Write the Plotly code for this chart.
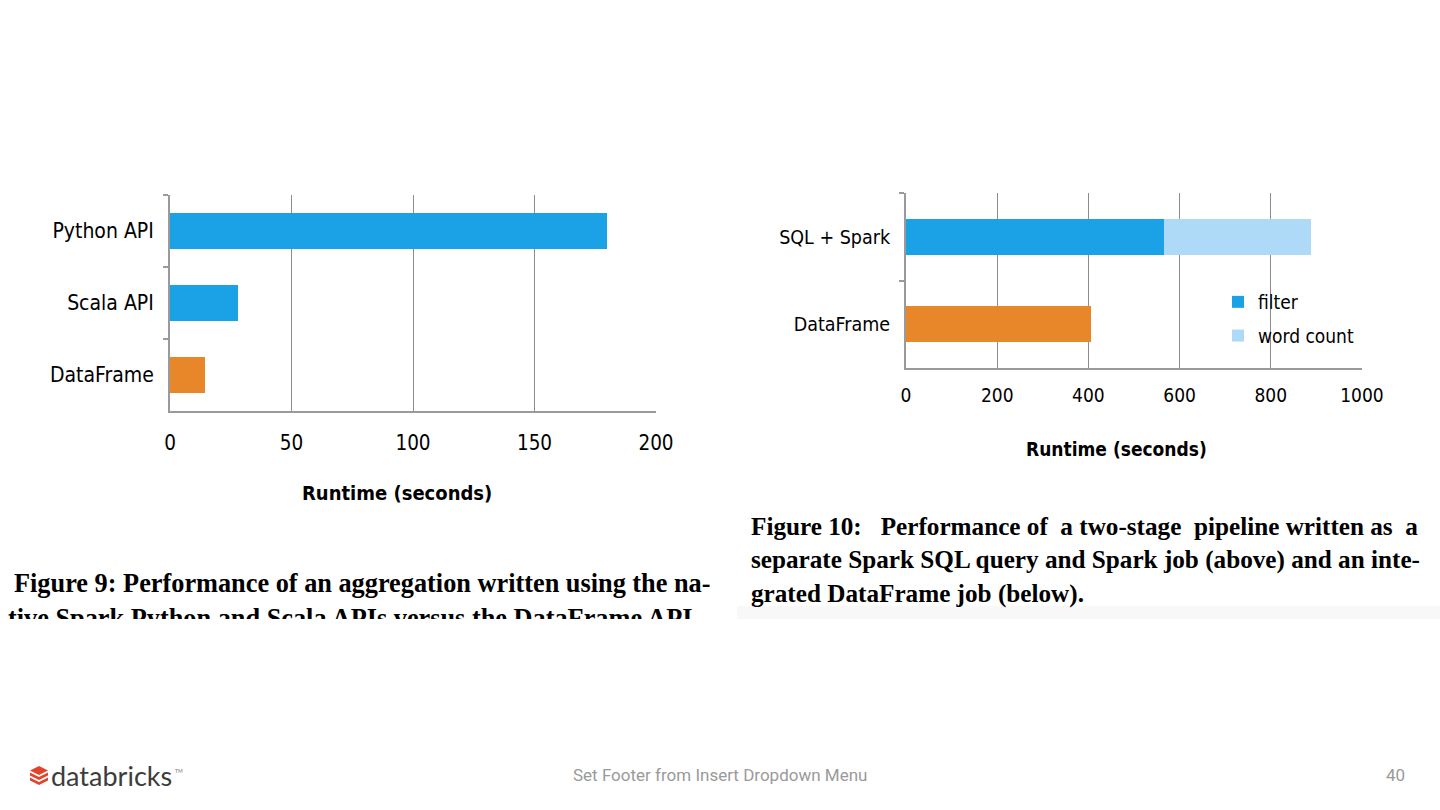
import plotly.graph_objects as go

W, H = 1440, 810

# ---------------- data ----------------
agg_categories = ["Python API", "Scala API", "DataFrame"]
agg_runtime = [180, 28, 14.5]
agg_colors = ["#1BA1E6", "#1BA1E6", "#E8862A"]
agg_ticks = [0, 50, 100, 150, 200]

pipe_categories = ["SQL + Spark", "DataFrame"]
pipe_filter = [566, None]
pipe_wordcount = [322, None]
pipe_dataframe = [None, 405]
pipe_ticks = [0, 200, 400, 600, 800, 1000]

caption9 = ["Figure 9: Performance of an aggregation written using the na-",
            "tive Spark Python and Scala APIs versus the DataFrame API."]
caption10 = ["Figure 10:  Performance of a two-stage pipeline written as a",
             "separate Spark SQL query and Spark job (above) and an inte-",
             "grated DataFrame job (below)."]
caption10_extra_spaces = [4, 0, 0]   # widen gaps to imitate justified text


def px(x):
    return x / W


def py(y):
    return 1 - y / H


def justify(line, extra):
    if extra <= 0:
        return line
    words = line.split(" ")
    gaps = len(words) - 1
    out = words[0]
    step = gaps / extra
    marks = {int(round(step * (k + 0.5))) for k in range(extra)}
    for i, w in enumerate(words[1:]):
        out += (" " * (2 if i in marks else 1)) + w
    return out


NARROW = "Liberation Sans Narrow, Arial Narrow, DejaVu Sans Condensed, sans-serif"
SERIF = "Liberation Serif, Times New Roman, serif"
AXIS_C = "#9a9a9a"
GRID_C = "#8c8c8c"

fig = go.Figure()

# left chart
fig.add_trace(go.Bar(
    y=agg_categories, x=agg_runtime, orientation="h",
    marker=dict(color=agg_colors, line=dict(width=0)), width=0.49,
    xaxis="x", yaxis="y", showlegend=False, hoverinfo="x+y"))

# right chart
fig.add_trace(go.Bar(
    y=pipe_categories, x=pipe_filter, orientation="h", name="filter",
    marker=dict(color="#1BA1E6", line=dict(width=0)), width=0.41,
    xaxis="x2", yaxis="y2", legendgroup="a"))
fig.add_trace(go.Bar(
    y=pipe_categories, x=pipe_wordcount, orientation="h", name="word count",
    marker=dict(color="#AEDAF7", line=dict(width=0)), width=0.41,
    xaxis="x2", yaxis="y2", legendgroup="b"))
fig.add_trace(go.Bar(
    y=pipe_categories, x=pipe_dataframe, orientation="h", name="DataFrame",
    marker=dict(color="#E8862A", line=dict(width=0)), width=0.41,
    xaxis="x2", yaxis="y2", showlegend=False))

# clipped second caption line (partially hidden like in the slide)
fig.add_trace(go.Scatter(
    x=[8], y=[620], mode="text", text=["<b>" + caption9[1] + "</b>"],
    textposition="middle right",
    textfont=dict(family=SERIF, size=26.3, color="#000000"), cliponaxis=True,
    xaxis="x3", yaxis="y3", showlegend=False, hoverinfo="skip"))

xcommon = dict(showline=True, linecolor=AXIS_C, linewidth=2, showgrid=True,
               gridcolor=GRID_C, gridwidth=1, zeroline=False, ticks="",
               automargin=False, fixedrange=True)
ycommon = dict(showline=True, linecolor=AXIS_C, linewidth=2, showgrid=False,
               zeroline=False, ticks="outside", ticklen=5, tickcolor=AXIS_C,
               tickwidth=2, tickson="boundaries", autorange="reversed",
               automargin=False, fixedrange=True, ticklabelstandoff=10)

fig.update_layout(
    template="none",
    width=W, height=H, margin=dict(l=0, r=0, t=0, b=0, pad=0),
    paper_bgcolor="white", plot_bgcolor="rgba(0,0,0,0)",
    barmode="stack",
    xaxis=dict(xcommon, domain=[px(170), px(656)], range=[0, 200],
               tickvals=agg_ticks, anchor="y", ticklabelstandoff=12,
               tickfont=dict(family=NARROW, size=20.5, color="#000000")),
    yaxis=dict(ycommon, domain=[py(411), py(195)], anchor="x",
               tickfont=dict(family=NARROW, size=21, color="#000000")),
    xaxis2=dict(xcommon, domain=[px(906), px(1362)], range=[0, 1000],
                tickvals=pipe_ticks, anchor="y2", ticklabelstandoff=9,
                tickfont=dict(family=NARROW, size=19, color="#000000")),
    yaxis2=dict(ycommon, domain=[py(368), py(193)], anchor="x2",
                tickfont=dict(family=NARROW, size=19.5, color="#000000")),
    xaxis3=dict(domain=[0, 0.51], range=[0, 0.51 * W], visible=False,
                anchor="y3", fixedrange=True, automargin=False),
    yaxis3=dict(domain=[py(619), py(596)], range=[619, 596], visible=False,
                anchor="x3", fixedrange=True, automargin=False),
    legend=dict(x=px(1218), y=py(283), xanchor="left", yanchor="top",
                bgcolor="rgba(0,0,0,0)", traceorder="grouped",
                tracegroupgap=6, itemwidth=30, borderwidth=0,
                font=dict(family=NARROW, size=19, color="#000000")),
)


def text_ann(text, x, y, size, family, color="#000000", xanchor="center"):
    return dict(text=text, x=px(x), y=py(y), xref="paper", yref="paper",
                xanchor=xanchor, yanchor="middle", showarrow=False,
                font=dict(family=family, size=size, color=color))


ann = [
    text_ann("<b>Runtime (seconds)</b>", 397, 493, 20, NARROW),
    text_ann("<b>Runtime (seconds)</b>", 1116, 449, 19, NARROW),
    text_ann("<b>" + caption9[0] + "</b>", 12, 583, 26.3, SERIF, xanchor="left"),
]
for i, line in enumerate(caption10):
    ann.append(text_ann("<b>" + justify(line, caption10_extra_spaces[i]) + "</b>",
                        749, 526 + 34 * i, 25.2, SERIF, xanchor="left"))
# footer
ann.append(text_ann("Set Footer from Insert Dropdown Menu", 720, 775, 17,
                    "Roboto, Open Sans, sans-serif", color="#9a9a9a"))
ann.append(text_ann("40", 1395, 775, 17, "Roboto, Open Sans, sans-serif",
                    color="#9a9a9a"))
ann.append(text_ann("databricks", 49, 775, 27, "Lato, Noto Sans, sans-serif",
                    color="#3c3c3c", xanchor="left"))
ann.append(text_ann("TM", 173, 771, 5, "Lato, sans-serif", color="#777777",
                    xanchor="left"))
fig.update_layout(annotations=ann)


def path(points):
    return "M " + " L ".join(f"{px(a):.5f},{py(b):.5f}" for a, b in points) + " Z"


red = "#E2442B"
shapes = [
    dict(type="path", xref="paper", yref="paper",
         path=path([(39, 766), (48, 770.5), (39, 775), (30, 770.5)]),
         fillcolor=red, line=dict(width=0)),
    dict(type="path", xref="paper", yref="paper",
         path=path([(30, 772.5), (39, 777), (48, 772.5), (48, 775.5), (39, 780), (30, 775.5)]),
         fillcolor=red, line=dict(width=0)),
    dict(type="path", xref="paper", yref="paper",
         path=path([(30, 777.5), (39, 782), (48, 777.5), (48, 780.5), (39, 785), (30, 780.5)]),
         fillcolor=red, line=dict(width=0)),
    dict(type="rect", xref="paper", yref="paper", x0=px(737), x1=1, y0=py(619), y1=py(606),
         fillcolor="#f8f8f8", line=dict(width=0), layer="below"),
]
fig.update_layout(shapes=shapes)

fig.write_html("out.html", config={"displayModeBar": False},
               post_script="document.body.style.margin='0';document.body.style.overflow='hidden';")
